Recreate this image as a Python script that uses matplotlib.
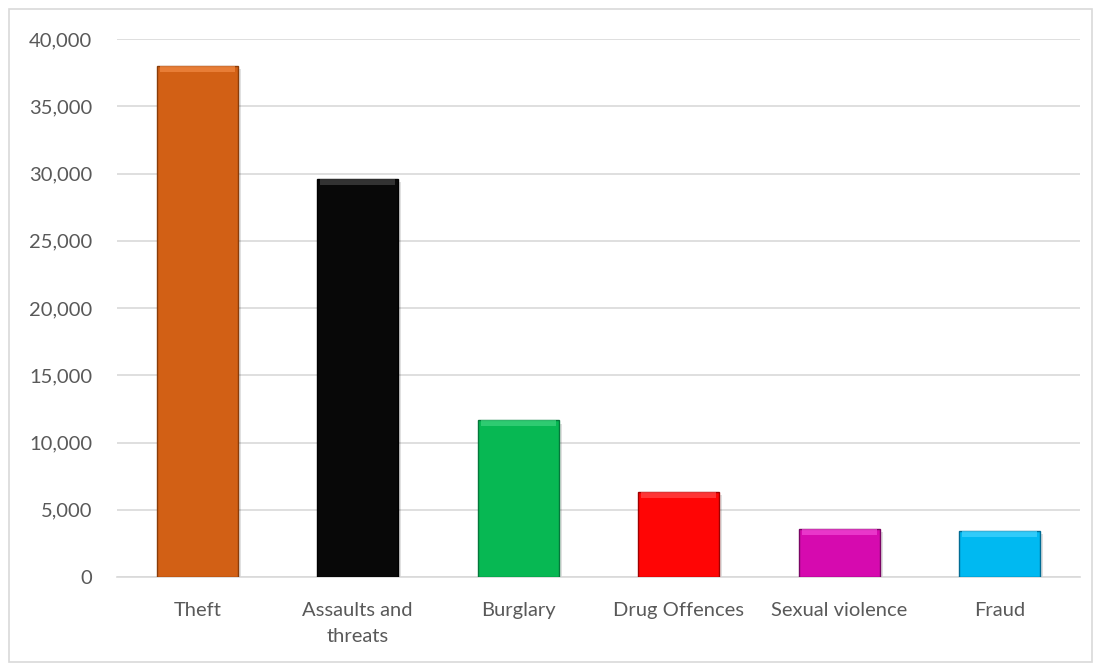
import matplotlib
matplotlib.use("Agg")
import matplotlib.pyplot as plt
from matplotlib.patches import Rectangle
from matplotlib.ticker import FuncFormatter

categories = ["Theft", "Assaults and\nthreats", "Burglary", "Drug Offences", "Sexual violence", "Fraud"]
values = [38000, 29600, 11650, 6330, 3560, 3430]
colors = ["#D26015", "#080808", "#07B853", "#FF0505", "#D60AAF", "#00B9F1"]
edge_colors = ["#8A3C08", "#000000", "#04773A", "#A00000", "#7A0564", "#006C94"]
highlight = ["#F28A45", "#444444", "#3FD47E", "#FF4A4A", "#F24AD6", "#45D4FF"]
yticks = [0, 5000, 10000, 15000, 20000, 25000, 30000, 35000, 40000]

plt.rcParams['font.family'] = ['Lato', 'DejaVu Sans']

fig = plt.figure(figsize=(11, 6.65), dpi=100)
fig.patches.append(Rectangle((9/1100, 3/665), 1083/1100, 653/665, transform=fig.transFigure,
                             fill=False, edgecolor="#D9D9D9", linewidth=1.2))
ax = fig.add_axes([117/1100, 1 - 577/665, 963/1100, 538/665])

x = list(range(len(categories)))
w = 0.505
# shadow
ax.bar([i + 0.02 for i in x], values, width=w, color="#000000", alpha=0.12, zorder=2, bottom=-250)
bars = ax.bar(x, values, width=w, color=colors, edgecolor=edge_colors, linewidth=1.0, zorder=3)
# bevel highlight at top
for i, v in enumerate(values):
    ax.bar(i, 420, bottom=v - 420, width=w * 0.92, color=highlight[i], linewidth=0, zorder=4, alpha=0.7)

ax.set_ylim(0, 40000)
ax.set_xlim(-0.5, len(categories) - 0.5)
ax.set_yticks(yticks)
ax.yaxis.set_major_formatter(FuncFormatter(lambda v, p: f"{int(v):,}"))
ax.set_xticks(x)
ax.set_xticklabels(categories, fontsize=14.5, color="#595959", linespacing=1.65)
ax.tick_params(axis='y', labelsize=14.5, labelcolor="#595959", length=0, pad=18)
ax.tick_params(axis='x', length=0, pad=18)
ax.grid(axis='y', color="#D9D9D9", linewidth=1.2, zorder=0)
ax.set_axisbelow(True)
for s in ["top", "right", "left"]:
    ax.spines[s].set_visible(False)
ax.spines["bottom"].set_color("#D9D9D9")
ax.spines["bottom"].set_linewidth(1.2)

fig.savefig("out.png", dpi=100)
